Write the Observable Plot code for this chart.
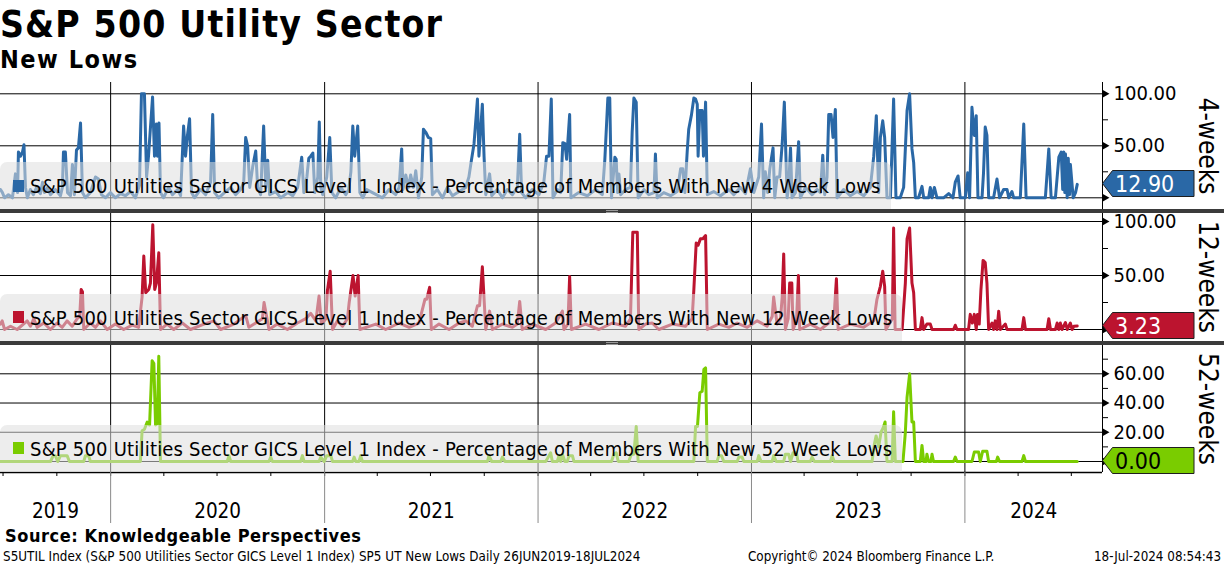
<!DOCTYPE html>
<html>
<head>
<meta charset="utf-8">
<script src="https://cdn.jsdelivr.net/npm/d3@7"></script>
<script src="https://cdn.jsdelivr.net/npm/@observablehq/plot@0.6"></script>
<style>
  body { margin: 0; background: #fff; }
  #root { position: relative; width: 1224px; height: 566px; overflow: hidden; background: #fff;
          font-family: "DejaVu Sans Condensed", "DejaVu Sans", sans-serif; font-stretch: condensed; color: #000; }
  .abs { position: absolute; white-space: nowrap; line-height: 1; }
  .title { font-weight: bold; }
  .sep { position: absolute; left: 0; width: 1224px; height: 4px; background: #3b3b3b; }
  .handle { position: absolute; width: 12px; height: 1px; border-top: 1px solid #9a9a9a; border-bottom: 1px solid #9a9a9a; }
  .legend { position: absolute; left: 0; background: rgba(222,222,222,0.55); border-radius: 7px 7px 0 0; }
  .swatch { position: absolute; left: 13px; width: 11px; height: 12px; }
  .legtext { position: absolute; left: 30px; font-size: 20px; letter-spacing: 0.2px; line-height: 1; white-space: nowrap; }
  .side { position: absolute; writing-mode: vertical-rl; font-size: 26px; line-height: 1; white-space: nowrap; transform: translate(-50%, -50%); }
</style>
</head>
<body>
<div id="root"></div>
<script>
// ---------------- data (decimal year, % of members) ----------------
const titleText = "S&P 500 Utility Sector";
const subtitleText = "New Lows";
const sourceText = "Source: Knowledgeable Perspectives";
const footLeft = "S5UTIL Index (S&P 500 Utilities Sector GICS Level 1 Index) SP5 UT New Lows  Daily 26JUN2019-18JUL2024";
const footMid = "Copyright\u00A9 2024 Bloomberg Finance L.P.";
const footRight = "18-Jul-2024 08:54:43";
const yearLabels = ["2019", "2020", "2021", "2022", "2023", "2024"];
const seriesNames = [
  "S&P 500 Utilities Sector GICS Level 1 Index - Percentage of Members With New 4 Week Lows",
  "S&P 500 Utilities Sector GICS Level 1 Index - Percentage of Members With New 12 Week Lows",
  "S&P 500 Utilities Sector GICS Level 1 Index - Percentage of Members With New 52 Week Lows"
];
const panelLabels = ["4-weeks", "12-weeks", "52-weeks"];

const newLows4w = [
[2019.484,8],[2019.493,5],[2019.503,0],[2019.521,3],[2019.540,0],[2019.554,23],[2019.564,5],[2019.568,44],[2019.578,40],[2019.587,44],
[2019.594,51],[2019.601,10],[2019.610,0],[2019.624,8],[2019.638,3],[2019.653,10],[2019.671,4],[2019.681,15],[2019.690,5],[2019.704,10],
[2019.718,3],[2019.741,8],[2019.765,2],[2019.774,10],[2019.779,44],[2019.788,44],[2019.798,5],[2019.812,2],[2019.821,32],[2019.830,3],
[2019.840,46],[2019.849,48],[2019.859,72],[2019.868,5],[2019.882,0],[2019.905,5],[2019.929,20],[2019.943,18],[2019.957,3],[2019.976,0],
[2019.999,5],[2020.022,0],[2020.046,4],[2020.069,2],[2020.093,6],[2020.116,0],[2020.135,12],[2020.144,100],[2020.158,100],[2020.168,20],
[2020.177,40],[2020.196,97],[2020.205,40],[2020.214,71],[2020.219,40],[2020.226,72],[2020.233,5],[2020.247,0],[2020.271,10],[2020.289,3],
[2020.313,8],[2020.327,2],[2020.341,69],[2020.350,40],[2020.359,60],[2020.369,76],[2020.378,5],[2020.392,0],[2020.420,8],[2020.444,3],
[2020.467,15],[2020.477,80],[2020.486,5],[2020.505,0],[2020.537,6],[2020.561,10],[2020.584,3],[2020.608,8],[2020.622,15],[2020.631,58],
[2020.640,50],[2020.650,10],[2020.664,30],[2020.678,45],[2020.687,10],[2020.701,3],[2020.715,69],[2020.725,10],[2020.734,36],[2020.743,3],
[2020.771,6],[2020.795,0],[2020.828,5],[2020.851,2],[2020.874,10],[2020.893,39],[2020.903,5],[2020.917,20],[2020.926,38],[2020.935,40],
[2020.945,43],[2020.954,5],[2020.968,20],[2020.975,73],[2020.982,10],[2020.991,3],[2021.010,20],[2021.024,58],[2021.034,5],[2021.052,0],
[2021.076,10],[2021.099,3],[2021.113,8],[2021.123,25],[2021.132,69],[2021.141,40],[2021.155,69],[2021.165,5],[2021.179,0],[2021.197,8],
[2021.224,5],[2021.271,0],[2021.302,8],[2021.333,3],[2021.349,10],[2021.361,47],[2021.367,8],[2021.380,22],[2021.393,10],[2021.403,22],
[2021.416,10],[2021.427,26],[2021.440,0],[2021.455,20],[2021.463,66],[2021.474,63],[2021.486,58],[2021.497,57],[2021.505,3],[2021.528,8],
[2021.552,0],[2021.575,10],[2021.599,2],[2021.630,6],[2021.661,10],[2021.676,20],[2021.684,31],[2021.700,52],[2021.716,95],[2021.723,40],
[2021.739,90],[2021.747,40],[2021.755,3],[2021.773,23],[2021.783,2],[2021.809,8],[2021.833,0],[2021.856,8],[2021.880,3],[2021.903,10],
[2021.914,61],[2021.923,5],[2021.942,0],[2021.973,8],[2022.004,3],[2022.027,15],[2022.040,40],[2022.051,40],[2022.062,95],[2022.070,0],
[2022.090,8],[2022.106,5],[2022.116,53],[2022.126,52],[2022.134,37],[2022.148,80],[2022.154,0],[2022.191,5],[2022.231,2],[2022.270,8],
[2022.301,3],[2022.313,37],[2022.327,96],[2022.336,96],[2022.344,0],[2022.360,39],[2022.366,37],[2022.373,5],[2022.379,23],[2022.387,3],
[2022.410,8],[2022.433,10],[2022.441,63],[2022.449,96],[2022.460,92],[2022.469,0],[2022.496,8],[2022.519,3],[2022.543,5],[2022.550,42],
[2022.558,0],[2022.589,5],[2022.621,2],[2022.652,6],[2022.668,28],[2022.678,28],[2022.688,5],[2022.699,45],[2022.706,66],[2022.719,80],
[2022.730,96],[2022.738,95],[2022.746,90],[2022.750,40],[2022.758,84],[2022.769,84],[2022.775,40],[2022.785,92],[2022.793,3],[2022.823,6],
[2022.855,2],[2022.894,8],[2022.917,3],[2022.948,10],[2022.972,4],[2022.995,28],[2023.011,5],[2023.034,20],[2023.047,71],[2023.057,0],
[2023.065,25],[2023.076,5],[2023.086,28],[2023.101,48],[2023.109,0],[2023.120,20],[2023.132,20],[2023.144,52],[2023.154,92],[2023.167,0],
[2023.174,10],[2023.183,48],[2023.190,0],[2023.206,5],[2023.221,54],[2023.229,0],[2023.253,10],[2023.284,3],[2023.307,8],[2023.323,5],
[2023.334,41],[2023.343,3],[2023.354,20],[2023.362,80],[2023.373,80],[2023.382,58],[2023.393,85],[2023.401,0],[2023.432,8],[2023.463,2],
[2023.495,6],[2023.526,2],[2023.557,10],[2023.573,40],[2023.585,79],[2023.596,5],[2023.604,58],[2023.615,74],[2023.624,58],[2023.635,0],
[2023.651,0],[2023.666,95],[2023.677,0],[2023.697,0],[2023.713,10],[2023.729,84],[2023.741,100],[2023.752,47],[2023.760,34],[2023.768,0],
[2023.783,0],[2023.799,11],[2023.807,0],[2023.830,0],[2023.838,10],[2023.846,0],[2023.857,10],[2023.869,0],[2023.900,0],[2023.924,4],
[2023.944,0],[2023.955,15],[2023.968,21],[2023.978,0],[2024.002,0],[2024.013,24],[2024.022,0],[2024.033,87],[2024.044,60],[2024.053,79],
[2024.061,0],[2024.080,0],[2024.087,24],[2024.095,68],[2024.103,60],[2024.111,0],[2024.134,0],[2024.150,18],[2024.162,0],[2024.181,8],
[2024.197,8],[2024.205,0],[2024.220,6],[2024.228,0],[2024.259,0],[2024.275,71],[2024.286,0],[2024.376,0],[2024.392,47],[2024.403,0],
[2024.423,0],[2024.439,39],[2024.450,44],[2024.457,8],[2024.462,44],[2024.467,5],[2024.470,42],[2024.478,0],[2024.483,38],[2024.489,3],
[2024.493,32],[2024.506,0],[2024.517,5],[2024.525,12.9]
];

const newLows12w = [
[2019.484,5],[2019.492,8],[2019.503,0],[2019.531,3],[2019.562,0],[2019.609,8],[2019.624,3],[2019.640,10],[2019.656,2],[2019.687,6],
[2019.718,0],[2019.749,6],[2019.773,2],[2019.796,8],[2019.820,3],[2019.843,10],[2019.855,12],[2019.862,37],[2019.868,35],[2019.874,0],
[2019.905,6],[2019.929,2],[2019.952,8],[2019.984,0],[2020.022,5],[2020.061,0],[2020.101,4],[2020.131,2],[2020.147,30],[2020.155,68],
[2020.164,34],[2020.178,37],[2020.186,43],[2020.197,97],[2020.206,37],[2020.214,43],[2020.225,71],[2020.233,0],[2020.264,5],[2020.295,0],
[2020.335,6],[2020.373,0],[2020.436,5],[2020.483,8],[2020.514,0],[2020.576,5],[2020.631,13],[2020.646,2],[2020.678,6],[2020.709,10],
[2020.717,25],[2020.729,12],[2020.740,0],[2020.779,5],[2020.826,0],[2020.873,6],[2020.912,10],[2020.935,15],[2020.959,8],[2020.974,31],
[2020.985,5],[2021.006,10],[2021.013,36],[2021.026,54],[2021.037,0],[2021.060,8],[2021.084,3],[2021.107,10],[2021.115,25],[2021.133,50],
[2021.143,31],[2021.157,50],[2021.165,0],[2021.240,5],[2021.286,0],[2021.349,6],[2021.396,2],[2021.442,6],[2021.470,28],[2021.478,28],
[2021.492,39],[2021.500,0],[2021.536,5],[2021.583,0],[2021.630,6],[2021.661,8],[2021.692,3],[2021.716,22],[2021.726,22],[2021.739,58],
[2021.748,25],[2021.755,0],[2021.773,17],[2021.786,0],[2021.833,5],[2021.880,2],[2021.903,5],[2021.914,26],[2021.926,0],[2021.973,5],
[2022.036,0],[2022.082,6],[2022.114,17],[2022.121,0],[2022.140,5],[2022.148,49],[2022.156,0],[2022.223,5],[2022.285,0],[2022.348,6],
[2022.410,3],[2022.433,10],[2022.444,90],[2022.465,90],[2022.472,0],[2022.504,5],[2022.535,6],[2022.566,0],[2022.629,5],[2022.691,3],
[2022.722,10],[2022.730,37],[2022.741,80],[2022.750,78],[2022.761,84],[2022.772,84],[2022.785,87],[2022.793,0],[2022.847,5],[2022.894,2],
[2022.933,6],[2022.980,2],[2023.027,8],[2023.073,3],[2023.097,12],[2023.104,30],[2023.120,5],[2023.136,10],[2023.144,30],[2023.151,70],
[2023.159,0],[2023.172,10],[2023.179,43],[2023.189,43],[2023.195,0],[2023.211,8],[2023.220,50],[2023.226,0],[2023.276,5],[2023.323,0],
[2023.362,6],[2023.388,15],[2023.398,47],[2023.406,0],[2023.463,5],[2023.526,2],[2023.573,8],[2023.588,28],[2023.604,40],[2023.615,54],
[2023.624,40],[2023.630,0],[2023.660,10],[2023.666,94],[2023.673,0],[2023.706,0],[2023.721,43],[2023.729,84],[2023.741,94],[2023.752,43],
[2023.760,34],[2023.768,0],[2023.791,0],[2023.799,11],[2023.807,0],[2023.822,5],[2023.838,5],[2023.846,0],[2023.947,0],[2023.955,4],
[2023.963,0],[2024.017,0],[2024.025,14],[2024.035,6],[2024.044,14],[2024.053,0],[2024.059,14],[2024.067,5],[2024.075,37],[2024.085,64],
[2024.095,62],[2024.103,43],[2024.111,0],[2024.127,6],[2024.134,0],[2024.142,8],[2024.150,0],[2024.158,17],[2024.166,0],[2024.189,5],
[2024.197,0],[2024.267,0],[2024.275,11],[2024.283,0],[2024.384,0],[2024.392,10],[2024.400,0],[2024.423,0],[2024.431,6],[2024.439,0],
[2024.446,6],[2024.454,0],[2024.470,6.5],[2024.478,0],[2024.493,6],[2024.501,0],[2024.509,3],[2024.525,3.23]
];

const newLows52w = [
[2019.484,0],[2019.718,0],[2019.731,4],[2019.741,4],[2019.752,0],[2019.765,4],[2019.796,4],[2019.807,0],[2019.874,0],[2019.882,4],
[2019.897,4],[2019.905,0],[2020.139,0],[2020.147,21],[2020.158,22],[2020.171,27],[2020.182,25],[2020.194,69],[2020.202,67],[2020.210,25],
[2020.218,26],[2020.225,72],[2020.233,0],[2020.545,0],[2020.553,4],[2020.561,0],[2020.740,0],[2020.748,3],[2020.756,0],[2020.888,0],
[2020.896,4],[2020.904,0],[2020.974,0],[2020.982,3],[2020.998,0],[2021.010,4],[2021.029,4],[2021.037,0],[2021.131,0],[2021.138,3],
[2021.146,0],[2021.161,0],[2021.169,4],[2021.177,0],[2021.763,0],[2021.770,4],[2021.783,0],[2021.825,0],[2021.833,3],[2021.845,0],
[2022.036,0],[2022.048,3],[2022.059,6],[2022.067,0],[2022.090,0],[2022.098,4],[2022.106,0],[2022.114,5],[2022.126,0],[2022.137,0],
[2022.145,4],[2022.161,4],[2022.168,0],[2022.344,0],[2022.355,5],[2022.366,6],[2022.376,0],[2022.425,0],[2022.437,5],[2022.449,5],
[2022.460,24],[2022.469,0],[2022.730,0],[2022.738,24],[2022.747,24],[2022.758,47],[2022.769,48],[2022.777,63],[2022.785,64],[2022.793,0],
[2022.839,0],[2022.847,4],[2022.860,4],[2022.870,0],[2022.933,0],[2022.941,3],[2022.956,3],[2022.964,0],[2023.027,0],[2023.034,4],
[2023.045,0],[2023.097,0],[2023.104,4],[2023.116,0],[2023.151,0],[2023.159,5],[2023.174,5],[2023.183,0],[2023.195,6],[2023.211,6],
[2023.218,0],[2023.276,0],[2023.284,3],[2023.295,0],[2023.370,0],[2023.378,4],[2023.388,0],[2023.565,0],[2023.576,12],[2023.584,17.5],
[2023.596,10],[2023.607,20],[2023.617,23],[2023.626,27],[2023.635,0],[2023.659,0],[2023.666,34],[2023.674,0],[2023.710,0],[2023.721,20],
[2023.729,44],[2023.741,60],[2023.752,27],[2023.760,27],[2023.768,0],[2023.791,0],[2023.799,11],[2023.807,0],[2023.818,0],[2023.822,5],
[2023.830,0],[2023.841,0],[2023.846,5],[2023.853,0],[2023.947,0],[2023.955,3],[2023.963,0],[2024.033,0],[2024.044,6.5],[2024.064,6.5],
[2024.072,0],[2024.083,7],[2024.103,7],[2024.111,0],[2024.147,0],[2024.153,3],[2024.162,0],[2024.267,0],[2024.275,4],[2024.283,0],
[2024.525,0]
];

// ---------------- helpers ----------------
const FONT = '"DejaVu Sans Condensed", "DejaVu Sans", sans-serif';
function toDate(t) {
  const y = Math.floor(t);
  const a = Date.UTC(y, 0, 1), b = Date.UTC(y + 1, 0, 1);
  return new Date(a + (t - y) * (b - a));
}
const xDomain = [toDate(2019.484), toDate(2024.643)];
const yearStarts = [2020, 2021, 2022, 2023, 2024].map(y => new Date(Date.UTC(y, 0, 1)));
const bounds = [xDomain[0], ...yearStarts, xDomain[1]];
const yearMids = yearLabels.map((_, i) => new Date((+bounds[i] + +bounds[i + 1]) / 2));
const quarterTicks = d3.utcMonth.every(3).range(xDomain[0], xDomain[1]);
const fmt2 = d3.format(".2f");

const root = document.getElementById("root");
function addDiv(cls, css, text) {
  const d = document.createElement("div");
  d.className = cls;
  d.style.cssText = css;
  if (text != null) d.textContent = text;
  root.appendChild(d);
  return d;
}

// titles
addDiv("abs title", "left:0px;top:5.7px;font-size:37px;letter-spacing:1.15px;", titleText);
addDiv("abs title", "left:0px;top:46.9px;font-size:25px;letter-spacing:1.5px;", subtitleText);

const panels = [
  { data: newLows4w, color: "#2a68a6", textColor: "#fff", top: 82, height: 127, yDomain: [-11.25, 110.87],
    major: [0, 50, 100], labeled: [50, 100], minor: [25, 75], legendTop: 162, legendWidth: 891, swatchTop: 180, textTop: 175.8 },
  { data: newLows12w, color: "#bc142f", textColor: "#fff", top: 213, height: 128, yDomain: [-11.11, 107.41],
    major: [0, 50, 100], labeled: [50, 100], minor: [25, 75], legendTop: 294, legendWidth: 902, swatchTop: 311, textTop: 308.4 },
  { data: newLows52w, color: "#7acc00", textColor: "#000", top: 345, height: 127, yDomain: [-7.53, 79.36],
    major: [0, 20, 40, 60], labeled: [20, 40, 60], minor: [10, 30, 50, 70], legendTop: 425, legendWidth: 902, swatchTop: 442, textTop: 439.1, xAxis: true }
];

panels.forEach((p, k) => {
  const rows = p.data.map(([t, v]) => ({ date: toDate(t), value: v }));
  const xEnd = xDomain[1];
  const marks = [
    Plot.ruleY(p.major, { stroke: "#000", strokeWidth: 1 }),
    Plot.ruleX(yearStarts, { stroke: "#000", strokeWidth: 1 }),
    Plot.line(rows, { x: "date", y: "value", stroke: p.color, strokeWidth: 3, strokeLinejoin: "round" }),
    Plot.ruleX([xEnd], { stroke: "#000", strokeWidth: 1 }),
    Plot.axisY({ anchor: "right", ticks: p.minor, tickSize: 5, tickFormat: () => "", label: null }),
    Plot.axisY({ anchor: "right", ticks: p.labeled, tickSize: 0, tickPadding: 11, tickFormat: fmt2, fontSize: 20, label: null }),
    Plot.dot(p.major, { x: () => xEnd, y: d => d, symbol: "triangle", rotate: 90, r: 3.2, fill: "#000", dx: 2 })
  ];
  let mb = 0;
  if (p.xAxis) {
    mb = 51;
    marks.push(
      Plot.ruleY([p.yDomain[0]], { stroke: "#000", strokeWidth: 1.5 }),
      Plot.axisX({ ticks: quarterTicks, tickSize: 4, tickFormat: () => "", label: null }),
      Plot.axisX({ ticks: yearStarts, tickSize: 51, tickFormat: () => "", stroke: "#8a8a8a", label: null }),
      Plot.text(yearLabels, { x: (d, i) => yearMids[i], text: d => d, frameAnchor: "bottom", dy: 45, fontSize: 20.5, fill: "#000" })
    );
  }
  const chart = Plot.plot({
    width: 1224, height: p.height + mb,
    marginLeft: 0, marginRight: 122, marginTop: 0, marginBottom: mb,
    x: { type: "utc", domain: xDomain, axis: null },
    y: { domain: p.yDomain, axis: null },
    style: { fontFamily: FONT, fontStretch: "condensed", fontSize: "20px", color: "#000", background: "none", overflow: "visible" },
    marks
  });
  chart.style.position = "absolute";
  chart.style.left = "0px";
  chart.style.top = p.top + "px";
  root.appendChild(chart);

  // legend overlay
  addDiv("legend", `top:${p.legendTop}px;width:${p.legendWidth}px;height:${p.top + p.height - p.legendTop}px;`);
  addDiv("swatch", `top:${p.swatchTop}px;background:${p.color};`);
  addDiv("legtext", `top:${p.textTop}px;`, seriesNames[k]);

  // right-hand label
  addDiv("side", `left:1208px;top:${p.top + p.height / 2}px;`, panelLabels[k]);

  // last value tag, positioned with the plot's own y scale
  const last = rows[rows.length - 1].value;
  const cy = p.top + chart.scale("y").apply(last);
  const tag = document.createElement("div");
  tag.style.cssText = `position:absolute;left:1102px;top:${cy - 13.5}px;width:93px;height:27px;`;
  tag.innerHTML = `<svg width="93" height="27" style="display:block;overflow:visible">
     <polygon points="0.5,13.5 10.5,0.5 92,0.5 92,26.5 10.5,26.5" fill="${p.color}" stroke="#1e1e1e" stroke-width="1"/>
     <text x="13" y="21.5" font-size="23" fill="${p.textColor}" style="font-family:${FONT.replace(/"/g, "'")};font-stretch:condensed">${fmt2(last)}</text></svg>`;
  root.appendChild(tag);
});

// separators between panels
[209, 341].forEach(y => {
  addDiv("sep", `top:${y}px;`);
  addDiv("handle", `left:606px;top:${y + 1}px;`);
});

// footer
addDiv("abs title", "left:5px;top:526.8px;font-size:18px;letter-spacing:0.55px;", sourceText);
addDiv("abs", "left:3px;top:550.2px;font-size:13.3px;letter-spacing:0.05px;", footLeft);
addDiv("abs", "left:748px;top:550.2px;font-size:13.3px;", footMid);
addDiv("abs", "right:3px;top:550.2px;font-size:13.3px;", footRight);
</script>
</body>
</html>
